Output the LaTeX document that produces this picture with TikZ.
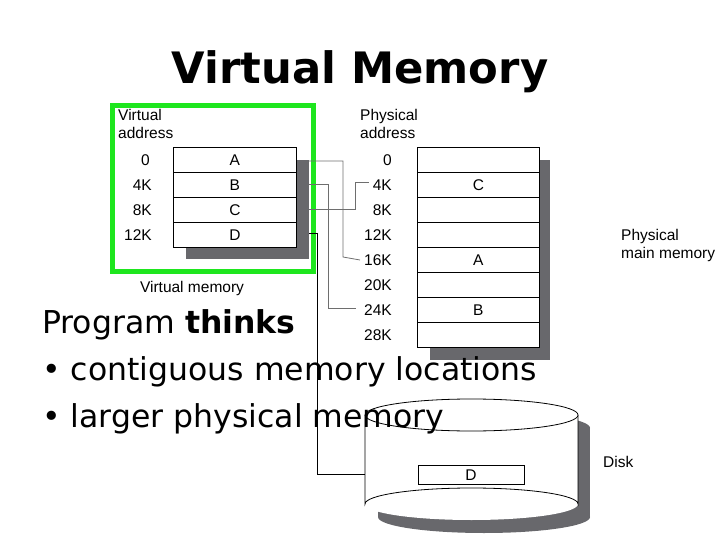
\documentclass[tikz,border=0pt]{standalone}
\usepackage{fontspec}
\setmainfont{DejaVu Sans}
\newfontfamily\diag{Liberation Sans}
\definecolor{shadowgray}{RGB}{104,104,108}
\definecolor{hl}{RGB}{30,230,30}
\definecolor{conn}{RGB}{110,110,110}
\begin{document}
\begin{tikzpicture}[x=1pt,y=-1pt,
  cell/.style={draw=black,fill=white,line width=0.8pt},
  lbl/.style={font=\diag\fontsize{15.5}{18}\selectfont,inner sep=0pt},
  wire/.style={draw=conn,line width=0.8pt},
  wireD/.style={draw=black,line width=1pt},
  body/.style={font=\fontsize{31.5}{36}\selectfont,inner sep=0pt,anchor=base west}]
\useasboundingbox (0,0) rectangle (720,540);
% title
\node[font=\bfseries\fontsize{43.3}{50}\selectfont,inner sep=0pt,anchor=base] (title) at (360,84) {Virtual Memory};
% virtual memory
\fill[shadowgray] (186,160) rectangle (309,259);
\foreach \i/\t in {0/A,1/B,2/C,3/D}{
  \node[cell,minimum width=123pt,minimum height=25pt,inner sep=0pt,anchor=north west,font=\diag\fontsize{15.5}{18}\selectfont] (v\t) at (173,147+25*\i) {\t};
}
\node[lbl,anchor=east] (va0) at (150,160) {0};
\node[lbl,anchor=east] (va1) at (152,185) {4K};
\node[lbl,anchor=east] (va2) at (152,210) {8K};
\node[lbl,anchor=east] (va3) at (152,235) {12K};
\node[lbl,align=left,anchor=north west,font=\diag\fontsize{15.5}{18}\selectfont] (vahdr) at (118,109) {Virtual\\address};
\node[lbl] (vmlab) at (192,288) {Virtual memory};
\draw[hl,line width=5pt] (112,106) rectangle (313,271);
% physical memory
\fill[shadowgray] (430,160) rectangle (550,360);
\foreach \i/\t in {0/,1/C,2/,3/,4/A,5/,6/B,7/}{
  \node[cell,minimum width=122pt,minimum height=25pt,inner sep=0pt,anchor=north west,font=\diag\fontsize{15.5}{18}\selectfont] (p\i) at (417,147+25*\i) {\t};
}
\foreach \i/\t in {0/0,1/4K,2/8K,3/12K,4/16K,5/20K,6/24K,7/28K}{
  \node[lbl,anchor=east] (pa\i) at (392,160+25*\i) {\t};
}
\node[lbl,align=left,anchor=north west,font=\diag\fontsize{15.5}{18}\selectfont] (pahdr) at (360,109) {Physical\\address};
\node[lbl,align=left,anchor=north west,font=\diag\fontsize{15.5}{18}\selectfont] (pmm) at (621,229) {Physical\\main memory};
% disk
\fill[shadowgray] (378,428) rectangle (590,517);
\fill[shadowgray] (484,517) ellipse (106 and 16);
\fill[shadowgray] (484,428) ellipse (106 and 16);
\fill[white] (365,415) rectangle (578,504);
\fill[white] (471.5,504) ellipse (106.5 and 16);
\draw[line width=0.8pt] (365,415) -- (365,504) arc[start angle=180,end angle=360,x radius=106.5,y radius=16] -- (578,415);
\draw[line width=0.8pt,fill=white] (471.5,415) ellipse (106.5 and 16);
\node[draw,line width=0.8pt,fill=white,minimum width=106pt,minimum height=19pt,inner sep=0pt,font=\diag\fontsize{15.5}{18}\selectfont] (dD) at (471,475) {D};
\node[lbl,anchor=west] (disk) at (603,462) {Disk};
\coordinate (disktop) at (365,474);
% connectors
\coordinate (sA) at (309,161);
\coordinate (sB) at (309,184);
\coordinate (sC) at (309,209);
\coordinate (sD) at (309,233);
\draw[wire] (sA) -| (343,257) -- ([xshift=-4pt]pa4.west);
\draw[wire] (sB) -| (328,308) -- ([xshift=-8pt]pa6.west|-308,308);
\draw[wire] (sC) -| (355,182) -- ([xshift=-4pt]pa1.west|-182,182);
\draw[wireD] (sD) -| (317,474) -- (disktop);
% body text
\node[body] (l1) at (42,333) {Program \textbf{thinks}};
\node[body] (l2) at (42,380) {• contiguous memory locations};
\node[body] (l3) at (42,427) {• larger physical memory};
\end{tikzpicture}
\end{document}
